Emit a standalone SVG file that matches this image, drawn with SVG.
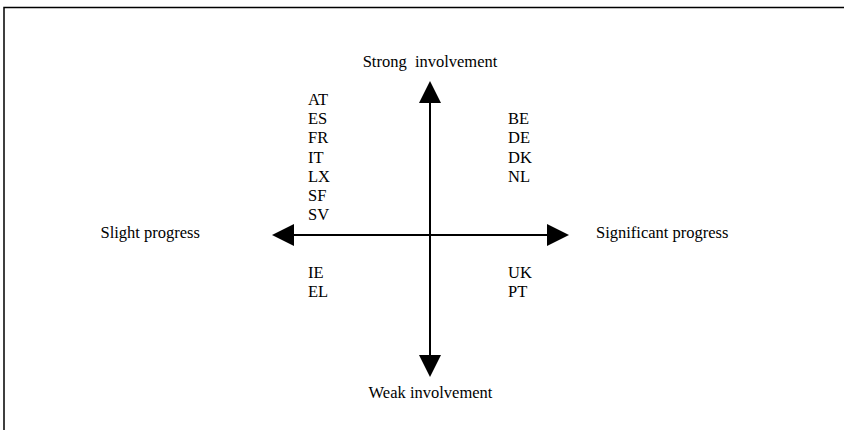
<svg xmlns="http://www.w3.org/2000/svg" width="844" height="430" viewBox="0 0 844 430">
<style>
text{font-family:"Liberation Serif","Times New Roman",serif;font-size:16.5px;fill:#000}
.ax{stroke:#000;stroke-width:2;fill:none}
.hd{fill:#000;stroke:none}
</style>
<rect width="844" height="430" fill="#fff"/>
<path d="M4 430 V7.5 H844" fill="none" stroke="#000" stroke-width="1.5"/>
<g id="connectors">
<line class="ax" x1="430" y1="100" x2="430" y2="359"/>
<line class="ax" x1="291" y1="235" x2="550" y2="235"/>
<polygon class="hd" points="430,81 419,103 441,103"/>
<polygon class="hd" points="430,377 419,355 441,355"/>
<polygon class="hd" points="272,235 294,224 294,246"/>
<polygon class="hd" points="569,235 547,224 547,246"/>
</g>
<g id="strong"><text x="430" y="67" text-anchor="middle" xml:space="preserve">Strong  involvement</text></g>
<g id="weak"><text x="430.5" y="398" text-anchor="middle">Weak involvement</text></g>
<g id="slight"><text x="100.5" y="238">Slight progress</text></g>
<g id="significant"><text x="596" y="238">Significant progress</text></g>
<g id="top-left">
<text x="308" y="105">AT</text>
<text x="308" y="124.2">ES</text>
<text x="308" y="143.4">FR</text>
<text x="308" y="162.6">IT</text>
<text x="308" y="181.8">LX</text>
<text x="308" y="201">SF</text>
<text x="308" y="220.2">SV</text>
</g>
<g id="top-right">
<text x="508" y="124.2">BE</text>
<text x="508" y="143.4">DE</text>
<text x="508" y="162.6">DK</text>
<text x="508" y="181.8">NL</text>
</g>
<g id="bottom-left">
<text x="308" y="278.3">IE</text>
<text x="308" y="297">EL</text>
</g>
<g id="bottom-right">
<text x="508" y="278.3">UK</text>
<text x="508" y="297">PT</text>
</g>
</svg>
